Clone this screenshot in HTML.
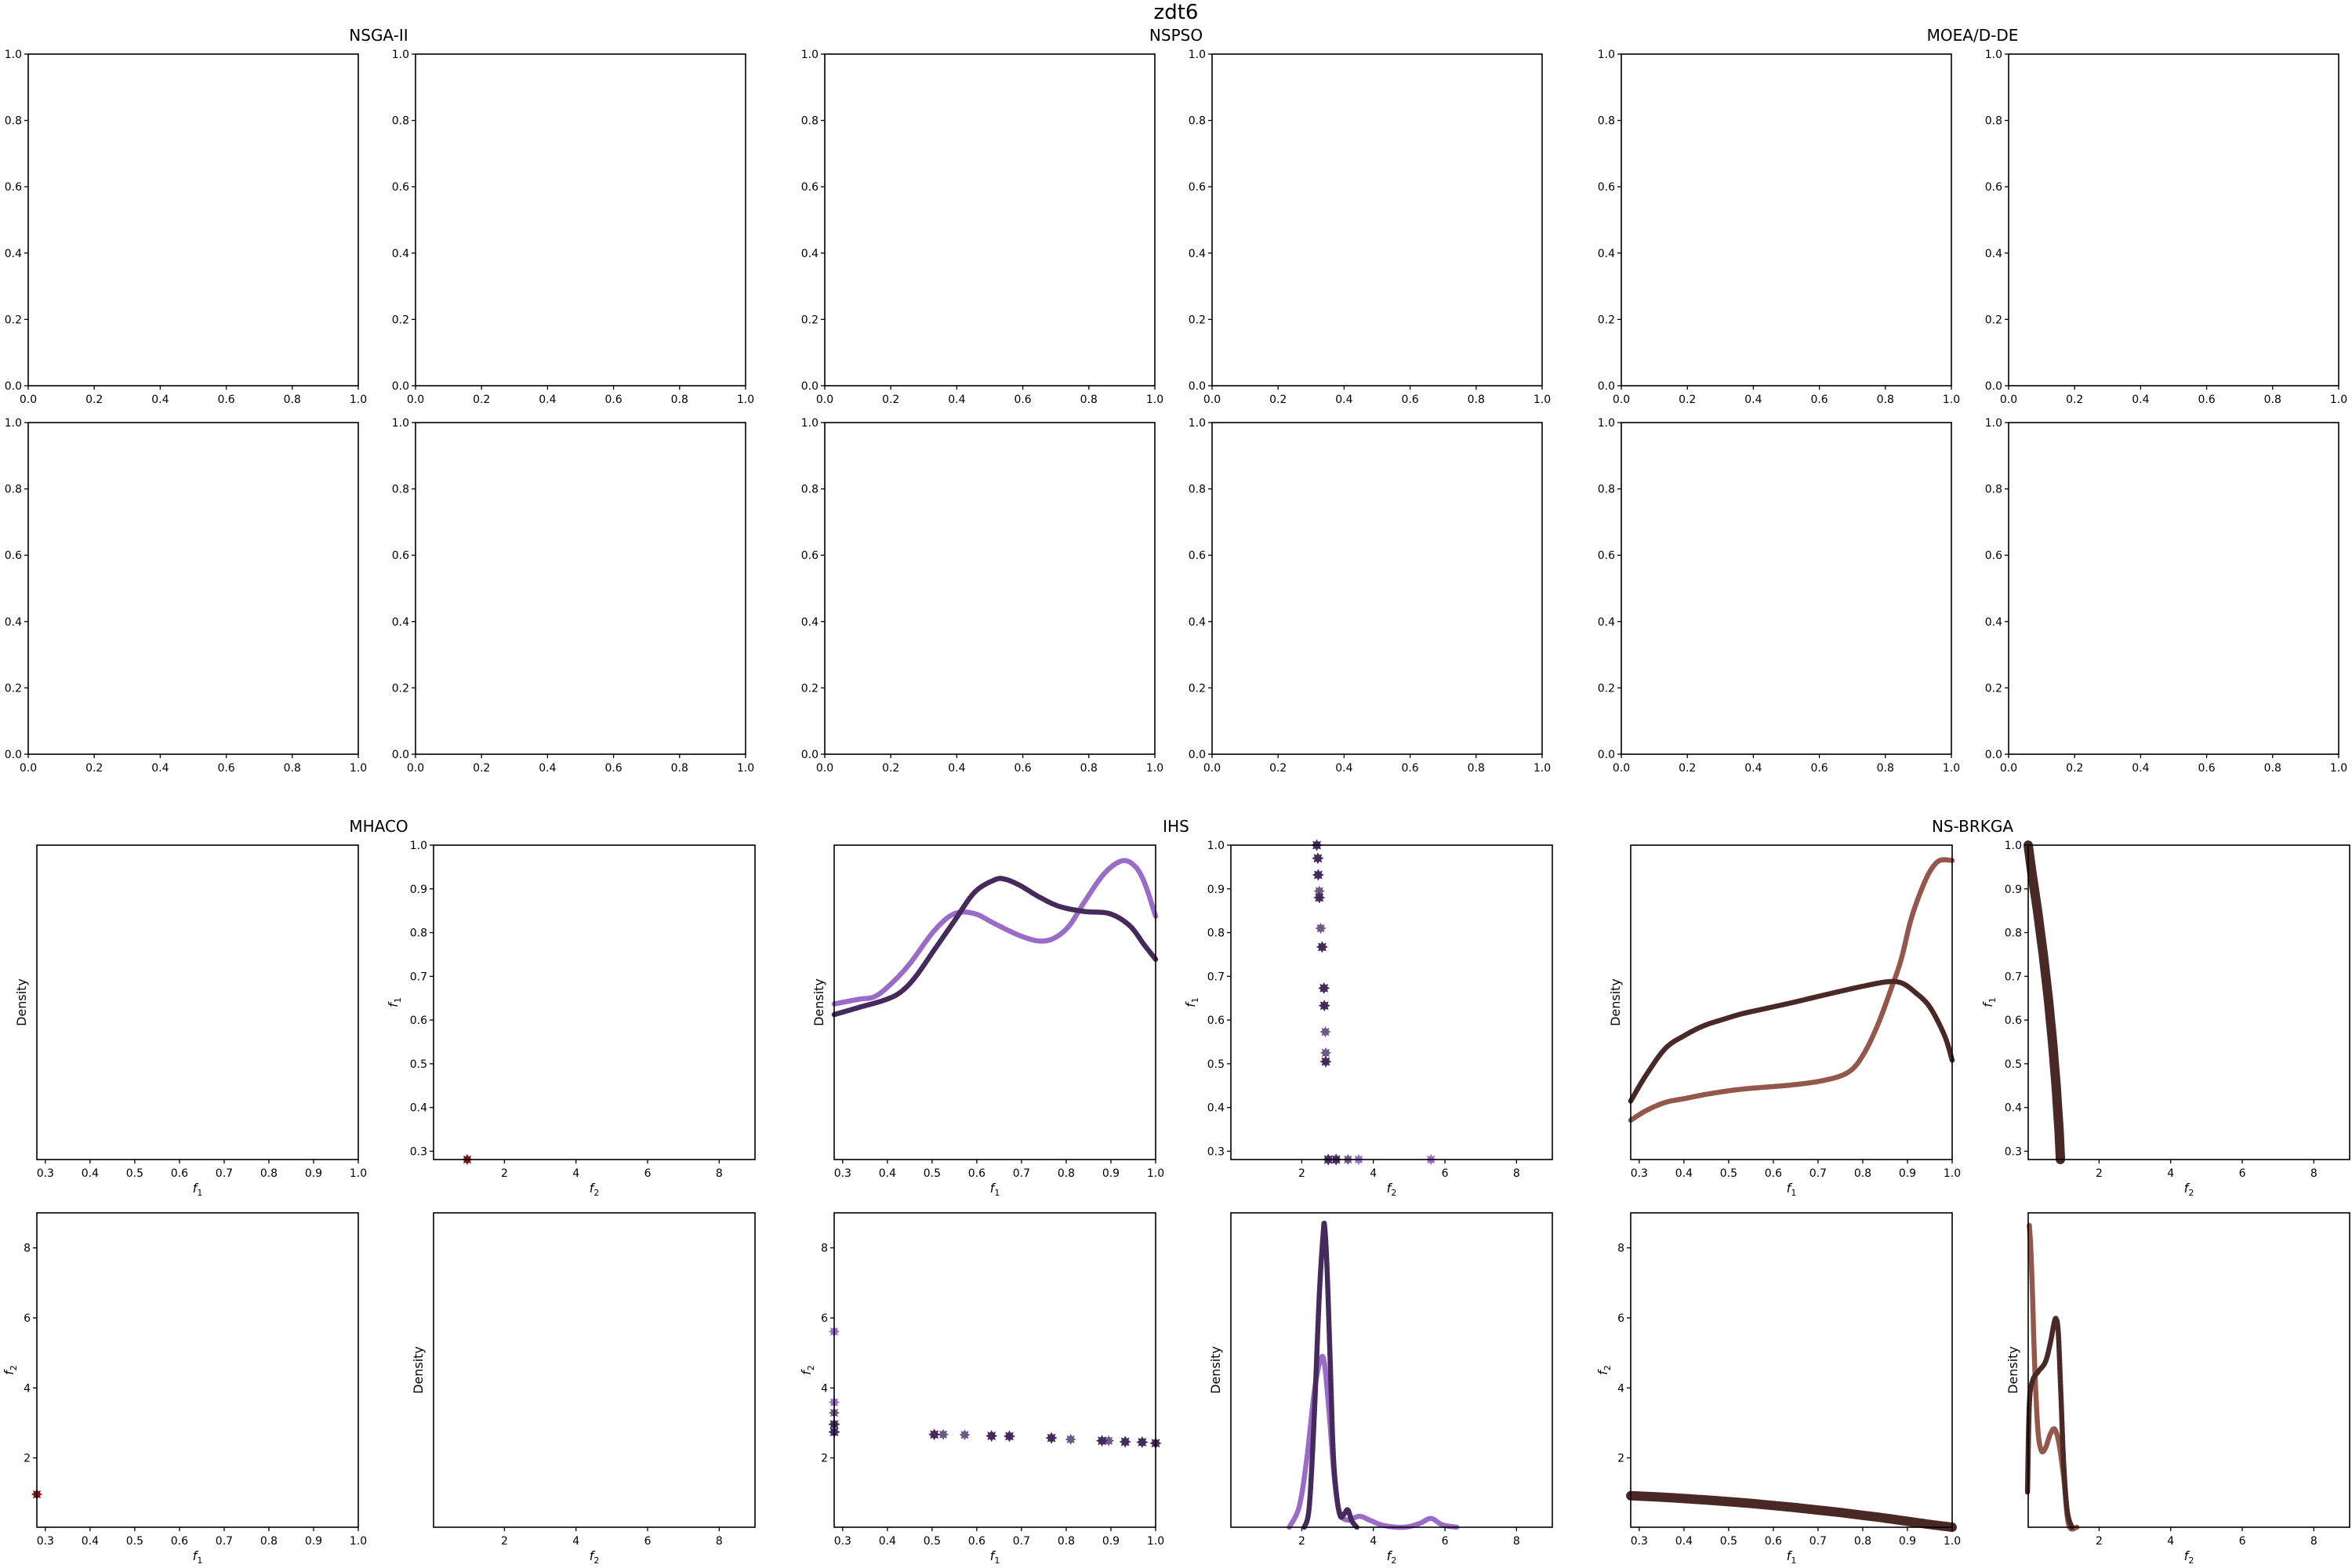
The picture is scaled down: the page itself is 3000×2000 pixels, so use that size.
<!DOCTYPE html>
<html><head><meta charset="utf-8">
<style>
html,body{margin:0;padding:0;background:#fff;}
svg{display:block;font-family:"DejaVu Sans","Liberation Sans",sans-serif;}
</style></head>
<body>
<svg id="fig" width="3000" height="2000" viewBox="0 0 3000 2000" xmlns="http://www.w3.org/2000/svg">
<rect width="3000" height="2000" fill="#fff"/>
<text x="1500" y="24" font-size="26" text-anchor="middle">zdt6</text>
<text x="483" y="52" font-size="20" text-anchor="middle">NSGA-II</text>
<text x="1500" y="52" font-size="20" text-anchor="middle">NSPSO</text>
<text x="2516" y="52" font-size="20" text-anchor="middle">MOEA/D-DE</text>
<text x="483" y="1061" font-size="20" text-anchor="middle">MHACO</text>
<text x="1500" y="1061" font-size="20" text-anchor="middle">IHS</text>
<text x="2516" y="1061" font-size="20" text-anchor="middle">NS-BRKGA</text>
<g id="plots"></g>
</svg>
<script>
// ---- data ----
const f1Ticks = [0.3,0.4,0.5,0.6,0.7,0.8,0.9,1.0];
const f2Ticks = [2,4,6,8];
const unitTicks = [0.0,0.2,0.4,0.6,0.8,1.0];
const f1Lim = [0.281,1.0];
const f2Lim = [0.02,9.0];

// IHS
const ihsDarkF1 = [1.0,0.97,0.932,0.88,0.767,0.673,0.633,0.505,0.281,0.281];
const ihsDarkF2 = [2.42,2.45,2.46,2.49,2.57,2.62,2.63,2.67,2.74,2.96];
const ihsMedF1 = [0.895,0.81,0.573,0.525,0.281];
const ihsMedF2 = [2.49,2.53,2.66,2.67,3.29];
const ihsLightF1 = [0.281,0.281];
const ihsLightF2 = [3.59,5.61];
const ihsKdeF1DarkX = [0.281,0.337,0.393,0.427,0.460,0.505,0.550,0.595,0.639,0.662,0.695,0.740,0.785,0.841,0.897,0.942,0.975,1.0];
const ihsKdeF1DarkY = [0.461,0.484,0.507,0.530,0.576,0.667,0.759,0.850,0.889,0.892,0.873,0.835,0.805,0.789,0.782,0.744,0.682,0.637];
const ihsKdeF1LightX = [0.281,0.337,0.371,0.404,0.449,0.505,0.550,0.595,0.639,0.695,0.740,0.774,0.807,0.841,0.886,0.925,0.953,0.975,1.0];
const ihsKdeF1LightY = [0.495,0.510,0.518,0.553,0.621,0.728,0.782,0.782,0.751,0.713,0.695,0.705,0.744,0.820,0.911,0.950,0.934,0.881,0.774];
const ihsKdeF2DarkX = [2.07,2.21,2.35,2.49,2.60,2.64,2.71,2.80,2.88,2.98,3.08,3.19,3.29,3.40,3.54];
const ihsKdeF2DarkY = [0.0,0.066,0.356,0.739,0.937,0.956,0.815,0.509,0.234,0.096,0.035,0.043,0.055,0.020,0.0];
const ihsKdeF2LightX = [1.65,1.93,2.14,2.35,2.52,2.63,2.77,2.91,3.05,3.26,3.61,3.89,4.31,4.87,5.29,5.61,5.92,6.34];
const ihsKdeF2LightY = [0.0,0.066,0.217,0.431,0.531,0.523,0.356,0.157,0.050,0.023,0.035,0.023,0.005,0.0,0.012,0.028,0.008,0.0];

// NS-BRKGA
const brkF1 = [1.0,0.95,0.9,0.85,0.8,0.75,0.7,0.65,0.6,0.55,0.5,0.45,0.4,0.35,0.3,0.281];
const brkF2 = [0.02,0.10,0.19,0.28,0.36,0.44,0.51,0.58,0.64,0.70,0.75,0.80,0.84,0.88,0.91,0.92];
const brkKdeF1DarkX = [0.281,0.316,0.359,0.402,0.445,0.488,0.531,0.585,0.639,0.692,0.746,0.800,0.853,0.886,0.918,0.950,0.983,1.0];
const brkKdeF1DarkY = [0.186,0.270,0.354,0.395,0.426,0.446,0.464,0.481,0.498,0.516,0.534,0.551,0.565,0.562,0.531,0.485,0.394,0.316];
const brkKdeF1LightX = [0.281,0.316,0.359,0.402,0.456,0.531,0.639,0.714,0.768,0.800,0.832,0.864,0.886,0.907,0.929,0.950,0.972,1.0];
const brkKdeF1LightY = [0.125,0.156,0.182,0.194,0.209,0.224,0.237,0.252,0.278,0.331,0.423,0.545,0.637,0.759,0.850,0.916,0.951,0.951];
const brkKdeF2DarkX = [0.0,0.05,0.14,0.30,0.50,0.64,0.74,0.80,0.86,0.93,1.01,1.11,1.24];
const brkKdeF2DarkY = [0.112,0.388,0.465,0.495,0.526,0.587,0.648,0.663,0.618,0.434,0.205,0.052,0.0];
const brkKdeF2LightX = [0.05,0.09,0.14,0.18,0.23,0.30,0.39,0.50,0.64,0.76,0.88,1.01,1.15,1.38];
const brkKdeF2LightY = [0.960,0.891,0.739,0.586,0.434,0.297,0.243,0.251,0.297,0.312,0.266,0.159,0.008,0.0];

// MHACO
const mhacoF1 = [0.281];
const mhacoF2 = [0.96];

const C = {ihsDark:'#452b5c', ihsMed:'#6e5a86', ihsLight:'#9a6cc8', brkDark:'#4a2825', brkLight:'#93584b', mhaco:'#7d1416'};

// ---- drawing ----
const NS = 'http://www.w3.org/2000/svg';
const root = document.getElementById('plots');
function mk(tag, attrs, parent){
  const e = document.createElementNS(NS, tag);
  for (const k in attrs) e.setAttribute(k, attrs[k]);
  (parent||root).appendChild(e);
  return e;
}
function starPath(cx, cy, r){
  let d='';
  for(let i=0;i<16;i++){
    const a = -Math.PI/2 + i*Math.PI/8;
    const rr = (i%2===0)? r : r*0.6;
    d += (i?'L':'M') + (cx+rr*Math.cos(a)).toFixed(1)+','+(cy+rr*Math.sin(a)).toFixed(1);
  }
  return d+'Z';
}
function fmt(v, dec){ return v.toFixed(dec); }

function panel(name, x0, y0, w, h, xlim, ylim, xticks, yticks, xdec, ydec, ylabel, ylabelOff){
  const g = mk('g', {});
  
  
  const sx = v => x0 + (v - xlim[0])/(xlim[1]-xlim[0])*w;
  const sy = v => y0 + h - (v - ylim[0])/(ylim[1]-ylim[0])*h;
  const plotG = mk('g', {}, g);
  
  
  const frame = mk('rect', {x:x0, y:y0, width:w, height:h, fill:'none', stroke:'#000', 'stroke-width':1.6}, g);
  
  
  if (xticks){
    xticks.forEach(t=>{
      const x = sx(t);
      mk('line', {x1:x, x2:x, y1:y0+h, y2:y0+h+5, stroke:'#000', 'stroke-width':1.3}, g);
      const tx = mk('text', {x:x, y:y0+h+22, 'font-size':14, 'text-anchor':'middle'}, g);
      
      
      tx.textContent = fmt(t, xdec);
    });
  }
  if (yticks){
    yticks.forEach(t=>{
      const y = sy(t);
      mk('line', {x1:x0-5, x2:x0, y1:y, y2:y, stroke:'#000', 'stroke-width':1.3}, g);
      const ty = mk('text', {x:x0-8, y:y+5, 'font-size':14, 'text-anchor':'end'}, g);
      
      
      ty.textContent = fmt(t, ydec);
    });
  }
  if (ylabel){
    const cx = x0 - ylabelOff, cy = y0 + h/2;
    const yl = mk('text', {x:cx, y:cy, 'font-size':16, 'text-anchor':'middle', transform:'rotate(-90 '+cx+' '+cy+')'}, g);
    
    
    yl.innerHTML = ylabel;
  }
  return {sx, sy, g:plotG};
}
const F1 = '<tspan font-style="italic">f</tspan><tspan font-size="11" dy="4">1</tspan>';
const F2 = '<tspan font-style="italic">f</tspan><tspan font-size="11" dy="4">2</tspan>';

function smoothPath(pts){
  let d = 'M'+pts[0][0].toFixed(1)+','+pts[0][1].toFixed(1);
  for(let i=0;i<pts.length-1;i++){
    const p0 = pts[Math.max(0,i-1)], p1 = pts[i], p2 = pts[i+1], p3 = pts[Math.min(pts.length-1,i+2)];
    const c1x = p1[0] + (p2[0]-p0[0])/6, c1y = p1[1] + (p2[1]-p0[1])/6;
    const c2x = p2[0] - (p3[0]-p1[0])/6, c2y = p2[1] - (p3[1]-p1[1])/6;
    d += 'C'+c1x.toFixed(1)+','+c1y.toFixed(1)+' '+c2x.toFixed(1)+','+c2y.toFixed(1)+' '+p2[0].toFixed(1)+','+p2[1].toFixed(1);
  }
  return d;
}
function kde(p, xs, ys, color, name){
  const pts = xs.map((x,i)=>[p.sx(x), p.sy(ys[i])]);
  const d = smoothPath(pts);
  const path = mk('path', {d:d, fill:'none', stroke:color, 'stroke-width':6.5, 'stroke-linejoin':'round', 'stroke-linecap':'round', 'stroke-dasharray':'4 1.5'}, p.g);
  
  
  const core = mk('path', {d:d, fill:'none', stroke:color, 'stroke-width':2.5}, p.g);
  
  
}
function scatter(p, xs, ys, color, r, name){
  xs.forEach((x,i)=>{
    const s = mk('path', {d:starPath(p.sx(x), p.sy(ys[i]), r), fill:color, stroke:color, 'stroke-width':1}, p.g);
    
    
  });
}
function band(p, xs, ys, color, name){
  const pts = xs.map((x,i)=>[p.sx(x), p.sy(ys[i])]);
  const path = mk('path', {d:smoothPath(pts), fill:'none', stroke:color, 'stroke-width':12, 'stroke-linejoin':'round', 'stroke-linecap':'round'}, p.g);
  
  
}

// top empty panels
const topLefts = [36,530,1052,1546,2068,2562];
const topRows = [69,539];
const algNames = ['nsga2','nsga2','nspso','nspso','moead','moead'];
topRows.forEach((ty,ri)=>{
  topLefts.forEach((tx,ci)=>{
    panel('empty-axes-'+algNames[ci]+'-r'+(ri+1)+'c'+(ci%2+1), tx, ty, 421, 423, [0,1], [0,1], unitTicks, unitTicks, 1, 1, null, 0);
  });
});

// bottom panels
const groups = [
  {name:'mhaco', l:[47,553]},
  {name:'ihs', l:[1064,1570]},
  {name:'nsbrkga', l:[2080,2587]}
];
const R3 = 1078, R4 = 1547, PW = 410, PH = 401;
const P = {};
groups.forEach(gr=>{
  P[gr.name] = {
    d1: panel(gr.name+'-f1-density', gr.l[0], R3, PW, PH, f1Lim, [0,1], f1Ticks, null, 1, 1, 'Density', 14),
    s12: panel(gr.name+'-f1-vs-f2', gr.l[1], R3, PW, PH, f2Lim, f1Lim, f2Ticks, f1Ticks, 0, 1, F1, 46),
    s21: panel(gr.name+'-f2-vs-f1', gr.l[0], R4, PW, PH, f1Lim, f2Lim, f1Ticks, f2Ticks, 1, 0, F2, 30),
    d2: panel(gr.name+'-f2-density', gr.l[1], R4, PW, PH, f2Lim, [0,1], f2Ticks, null, 0, 0, 'Density', 14)
  };
  [[gr.l[0],R3,F1],[gr.l[1],R3,F2],[gr.l[0],R4,F1],[gr.l[1],R4,F2]].forEach(a=>{
    const t = mk('text', {x:a[0]+PW/2, y:a[1]+PH+42, 'font-size':16, 'text-anchor':'middle'});
    
    
    t.innerHTML = a[2];
  });
});

// MHACO
scatter(P.mhaco.s12, mhacoF2, mhacoF1, C.mhaco, 6, 'mhaco-point');
scatter(P.mhaco.s21, mhacoF1, mhacoF2, C.mhaco, 6, 'mhaco-point');

// IHS
kde(P.ihs.d1, ihsKdeF1LightX, ihsKdeF1LightY, C.ihsLight, 'ihs-kde-f1-light');
kde(P.ihs.d1, ihsKdeF1DarkX, ihsKdeF1DarkY, C.ihsDark, 'ihs-kde-f1-dark');
kde(P.ihs.d2, ihsKdeF2LightX, ihsKdeF2LightY, C.ihsLight, 'ihs-kde-f2-light');
kde(P.ihs.d2, ihsKdeF2DarkX, ihsKdeF2DarkY, C.ihsDark, 'ihs-kde-f2-dark');
scatter(P.ihs.s12, ihsLightF2, ihsLightF1, C.ihsLight, 6, 'ihs-point-light');
scatter(P.ihs.s12, ihsMedF2, ihsMedF1, C.ihsMed, 6, 'ihs-point-medium');
scatter(P.ihs.s12, ihsDarkF2, ihsDarkF1, C.ihsDark, 6.5, 'ihs-point-dark');
scatter(P.ihs.s21, ihsLightF1, ihsLightF2, C.ihsLight, 6, 'ihs-point-light');
scatter(P.ihs.s21, ihsMedF1, ihsMedF2, C.ihsMed, 6, 'ihs-point-medium');
scatter(P.ihs.s21, ihsDarkF1, ihsDarkF2, C.ihsDark, 6.5, 'ihs-point-dark');

// NS-BRKGA
kde(P.nsbrkga.d1, brkKdeF1LightX, brkKdeF1LightY, C.brkLight, 'brkga-kde-f1-light');
kde(P.nsbrkga.d1, brkKdeF1DarkX, brkKdeF1DarkY, C.brkDark, 'brkga-kde-f1-dark');
kde(P.nsbrkga.d2, brkKdeF2LightX, brkKdeF2LightY, C.brkLight, 'brkga-kde-f2-light');
kde(P.nsbrkga.d2, brkKdeF2DarkX, brkKdeF2DarkY, C.brkDark, 'brkga-kde-f2-dark');
band(P.nsbrkga.s12, brkF2, brkF1, C.brkDark, 'brkga-front');
band(P.nsbrkga.s21, brkF1, brkF2, C.brkDark, 'brkga-front');
</script>
</body></html>
